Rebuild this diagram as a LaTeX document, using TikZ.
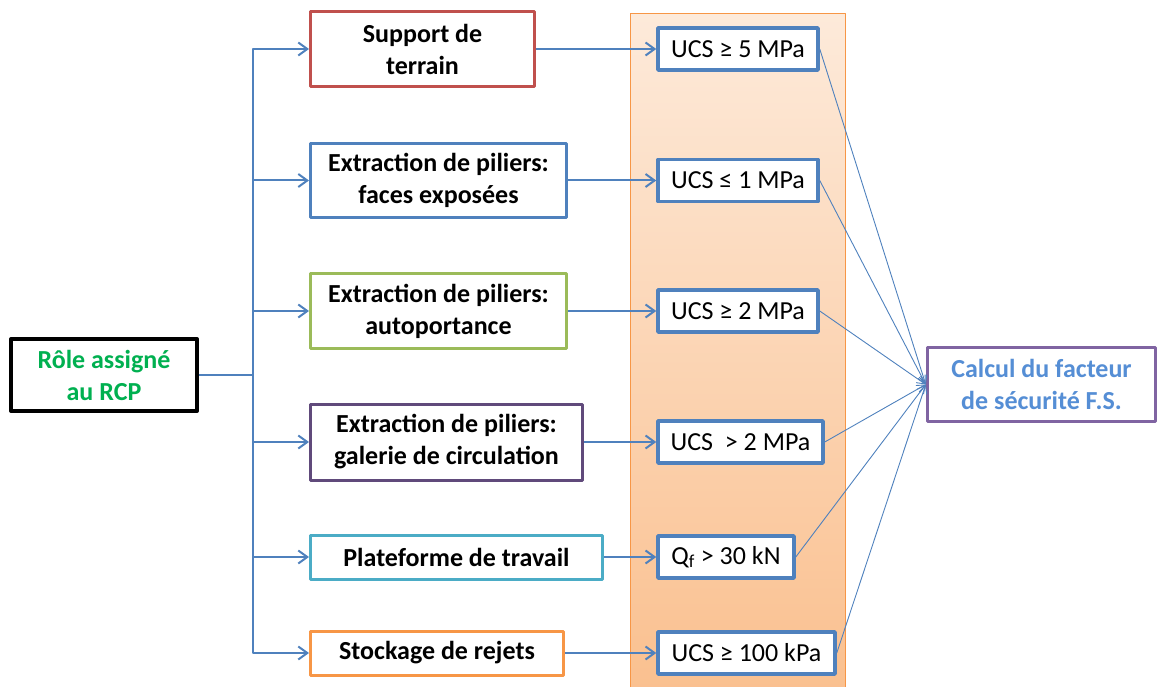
\documentclass[tikz,border=0pt]{standalone}
\usepackage{fontspec}
\setmainfont{Carlito}
\usetikzlibrary{arrows.meta}
\definecolor{boxred}{HTML}{C0504D}
\definecolor{boxblue}{HTML}{4F81BD}
\definecolor{boxgreen}{HTML}{9BBB59}
\definecolor{boxpurple}{HTML}{604A7B}
\definecolor{boxcyan}{HTML}{4BACC6}
\definecolor{boxorange}{HTML}{F79646}
\definecolor{calcpurple}{HTML}{8064A2}
\definecolor{rolegreen}{HTML}{00B050}
\definecolor{calcblue}{HTML}{558ED5}
\definecolor{bandtop}{HTML}{FDEADA}
\definecolor{bandbot}{HTML}{FAC08F}
\newcommand{\rolefont}{\fontsize{26}{32}\selectfont}

\begin{document}
\begin{tikzpicture}[x=1pt,y=-1pt]
    \tikzstyle{every path}=[line join=round]
    \tikzstyle{role}=[rectangle, draw, line width=3pt, fill=white, inner sep=0pt, align=center, font=\rolefont\bfseries]
    \tikzstyle{ucs}=[rectangle, draw=boxblue, line width=3.5pt, fill=white, inner sep=0pt, minimum height=42pt, font=\rolefont]
    \tikzstyle{flow}=[draw=boxblue, line width=2pt, -{Straight Barb[length=9pt,width=13pt]}]
    \tikzstyle{feed}=[draw=boxblue, line width=0.9pt, -{Straight Barb[length=8pt,width=8pt]}]

    \useasboundingbox (0,0) rectangle (1158,687);

    % orange band
    \draw[boxorange, line width=1pt, top color=bandtop, bottom color=bandbot] (630,14) rectangle (845,692);

    % starting box
    \node[role, draw=black, line width=4pt, text=rolegreen, minimum width=186pt, minimum height=72pt] (rcp) at (104,375) {R\^ole assign\'e\\au RCP};
    \coordinate (trunk) at (253,375);

    % roles
    \node[role, draw=boxred, minimum width=224pt, minimum height=75pt] (sup) at (422.5,49) {Support de\\terrain};
    \node[role, draw=boxblue, minimum width=256pt, minimum height=74pt] (face) at (438.5,180.5) {Extraction de piliers:\\faces expos\'ees};
    \node[role, draw=boxgreen, minimum width=256pt, minimum height=75pt] (auto) at (438.5,311) {Extraction de piliers:\\autoportance};
    \node[role, draw=boxpurple, minimum width=272pt, minimum height=76pt] (gal) at (446.5,442) {Extraction de piliers:\\galerie de circulation};
    \node[role, draw=boxcyan, minimum width=292pt, minimum height=44pt] (plat) at (456.5,557) {Plateforme de travail};
    \node[role, draw=boxorange, minimum width=253pt, minimum height=44pt] (stock) at (437,653) {Stockage de rejets};

    % criteria
    \node[ucs, minimum width=160pt] (ucs1) at (738,49) {UCS ≥ 5 MPa};
    \node[ucs, minimum width=160pt] (ucs2) at (738,180.5) {UCS ≤ 1 MPa};
    \node[ucs, minimum width=160pt] (ucs3) at (738,311) {UCS ≥ 2 MPa};
    \node[ucs, minimum width=165pt] (ucs4) at (740.5,442) {UCS~~> 2 MPa};
    \node[ucs, minimum width=136pt] (ucs5) at (726,557) {Q\textsubscript{f} > 30 kN};
    \node[ucs, minimum width=177pt] (ucs6) at (746.5,653) {UCS ≥ 100 kPa};

    % safety factor
    \node[role, draw=calcpurple, line width=3.5pt, text=calcblue, minimum width=228pt, minimum height=74pt] (calc) at (1041.5,384.5) {Calcul du facteur\\de s\'ecurit\'e F.S.};

    % branches
    \draw[flow] (rcp.east) -- (trunk) |- (sup.west);
    \draw[flow] (rcp.east) -- (trunk) |- (face.west);
    \draw[flow] (rcp.east) -- (trunk) |- (auto.west);
    \draw[flow] (rcp.east) -- (trunk) |- (gal.west);
    \draw[flow] (rcp.east) -- (trunk) |- (plat.west);
    \draw[flow] (rcp.east) -- (trunk) |- (stock.west);

    % roles to criteria
    \draw[flow] (sup.east) -- (ucs1.west);
    \draw[flow] (face.east) -- (ucs2.west);
    \draw[flow] (auto.east) -- (ucs3.west);
    \draw[flow] (gal.east) -- (ucs4.west);
    \draw[flow] (plat.east) -- (ucs5.west);
    \draw[flow] (stock.east) -- (ucs6.west);

    % criteria to safety factor
    \draw[feed] (ucs1.east) -- (calc.west);
    \draw[feed] (ucs2.east) -- (calc.west);
    \draw[feed] (ucs3.east) -- (calc.west);
    \draw[feed] (ucs4.east) -- (calc.west);
    \draw[feed] (ucs5.east) -- (calc.west);
    \draw[feed] (ucs6.east) -- (calc.west);

\end{tikzpicture}
\end{document}
